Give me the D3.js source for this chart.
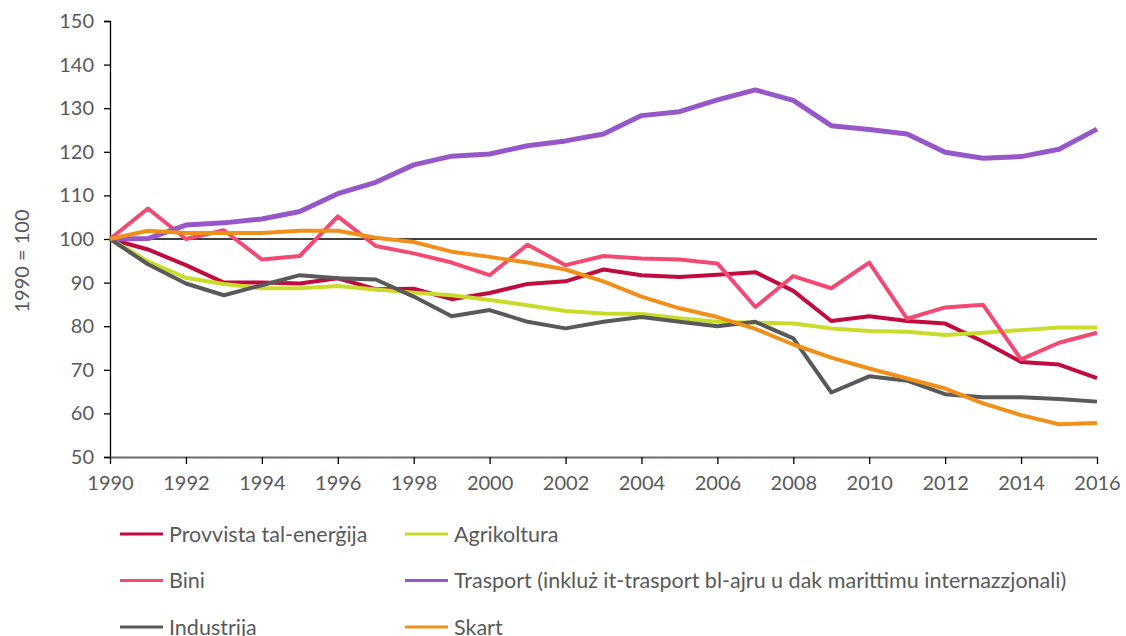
<!DOCTYPE html>
<html>
<head>
<meta charset="utf-8">
<script src="https://cdn.jsdelivr.net/npm/d3@7"></script>
<style>
  body { margin: 0; padding: 0; background: #fff; }
  svg { display: block; }
</style>
</head>
<body>
<div id="main"></div>
<script>
const years = d3.range(1990, 2017);
const yTicks = [50, 60, 70, 80, 90, 100, 110, 120, 130, 140, 150];
const xTicks = d3.range(1990, 2017, 2);

const energySupply = [100, 97.6, 94.0, 90.0, 90.0, 89.8, 91.0, 88.5, 88.6, 86.2, 87.6, 89.7, 90.3, 93.0, 91.7, 91.3, 91.8, 92.4, 88.1, 81.2, 82.3, 81.2, 80.6, 76.5, 71.8, 71.2, 68.1];
const agriculture = [100, 94.9, 91.1, 89.7, 88.7, 88.7, 89.2, 88.4, 87.7, 87.1, 86.0, 84.8, 83.5, 82.9, 82.8, 81.8, 81.0, 80.8, 80.6, 79.5, 78.9, 78.7, 78.0, 78.5, 79.1, 79.7, 79.7];
const buildings = [100, 107.0, 100.0, 102.0, 95.3, 96.1, 105.2, 98.4, 96.7, 94.6, 91.7, 98.7, 94.0, 96.1, 95.5, 95.3, 94.4, 84.4, 91.5, 88.7, 94.6, 81.7, 84.3, 84.9, 72.4, 76.2, 78.5];
const transport = [100, 100.1, 103.2, 103.7, 104.6, 106.3, 110.4, 113.0, 117.0, 119.0, 119.5, 121.4, 122.5, 124.1, 128.3, 129.2, 131.9, 134.2, 131.8, 126.0, 125.1, 124.1, 119.9, 118.5, 118.9, 120.6, 125.2];
const industry = [100, 94.2, 89.8, 87.1, 89.4, 91.7, 91.0, 90.7, 86.8, 82.3, 83.7, 81.0, 79.5, 81.0, 82.1, 81.0, 80.0, 81.0, 77.2, 64.8, 68.5, 67.5, 64.4, 63.7, 63.7, 63.3, 62.7];
const waste = [100, 101.9, 101.4, 101.4, 101.4, 101.9, 101.9, 100.3, 99.3, 97.1, 95.9, 94.6, 93.0, 90.3, 86.8, 84.1, 82.1, 79.4, 75.8, 72.8, 70.3, 68.0, 65.7, 62.3, 59.6, 57.5, 57.8];

const seriesNames = ['Provvista tal-enerġija', 'Agrikoltura', 'Bini', 'Trasport (inkluż it-trasport bl-ajru u dak marittimu internazzjonali)', 'Industrija', 'Skart'];
const seriesColours = ['#c00b3e', '#c9dc2b', '#f24a72', '#9658c8', '#595959', '#f0901b'];

const seriesList = [energySupply, agriculture, buildings, transport, industry, waste].map((values, i) => ({
    name: seriesNames[i],
    colour: seriesColours[i],
    width: i === 3 ? 5 : 4,
    values: values.map((v, j) => ({year: years[j], value: v}))
}));

const WIDTH = 1126;
const HEIGHT = 636;
const LEFT = 110, RIGHT = 1097, TOP = 21, BOTTOM = 457;
const FONT = 'Lato, "Open Sans", sans-serif';
const TEXTCOLOUR = '#595959';

const scaleX = d3.scaleLinear().domain([1990, 2016]).range([LEFT, RIGHT]);
const scaleY = d3.scaleLinear().domain([50, 150]).range([BOTTOM, TOP]);

const svg = d3.select('#main').append('svg').attr('width', WIDTH).attr('height', HEIGHT);

// y axis
const axisY = d3.axisLeft(scaleY).tickValues(yTicks).tickSize(6).tickPadding(10);
const gy = svg.append('g').attr('transform', `translate(${LEFT},0)`).call(axisY);
gy.select('.domain').attr('stroke', '#000').attr('stroke-width', 1.3);
gy.selectAll('.tick line').attr('stroke', '#000').attr('stroke-width', 1.3);
gy.selectAll('.tick text').attr('fill', TEXTCOLOUR).attr('font-family', FONT).attr('font-size', 20);

// x axis
const axisX = d3.axisBottom(scaleX).tickValues(xTicks).tickFormat(d3.format('d')).tickSize(7).tickSizeOuter(0).tickPadding(12);
const gx = svg.append('g').attr('transform', `translate(0,${BOTTOM})`).call(axisX);
gx.select('.domain').attr('stroke', '#6b6b6b').attr('stroke-width', 2);
gx.selectAll('.tick line').attr('stroke', '#000').attr('stroke-width', 1.3);
gx.selectAll('.tick text').attr('fill', TEXTCOLOUR).attr('font-family', FONT).attr('font-size', 20);

// 1990 = 100 reference line
svg.append('line')
    .attr('x1', scaleX(1990)).attr('x2', scaleX(2016))
    .attr('y1', scaleY(100)).attr('y2', scaleY(100))
    .attr('stroke', '#000').attr('stroke-width', 1.3);

svg.append('text')
    .attr('transform', `translate(29,${(TOP + BOTTOM) / 2 + 22}) rotate(-90)`)
    .attr('text-anchor', 'middle')
    .attr('fill', TEXTCOLOUR).attr('font-family', FONT).attr('font-size', 20)
    .text('1990 = 100');

const line = d3.line().x((d) => scaleX(d.year)).y((d) => scaleY(d.value));

svg.append('g').selectAll('path').data(seriesList).enter().append('path')
    .attr('d', (d) => line(d.values))
    .attr('fill', 'none')
    .attr('stroke', (d) => d.colour)
    .attr('stroke-width', (d) => d.width)
    .attr('stroke-linejoin', 'round');

// legend: two columns, three rows
const legend = svg.append('g');
const legendItems = legend.selectAll('g').data(seriesList).enter().append('g')
    .attr('transform', (d, i) => `translate(${i % 2 === 0 ? 120 : 405},${534 + Math.floor(i / 2) * 46.5})`);
legendItems.append('line')
    .attr('x1', 0).attr('x2', 43).attr('y1', 0).attr('y2', 0)
    .attr('stroke', (d) => d.colour).attr('stroke-width', 3);
legendItems.append('text')
    .attr('x', 49).attr('y', 7.5)
    .attr('fill', TEXTCOLOUR).attr('font-family', FONT).attr('font-size', 21.5)
    .text((d) => d.name);
</script>
</body>
</html>
